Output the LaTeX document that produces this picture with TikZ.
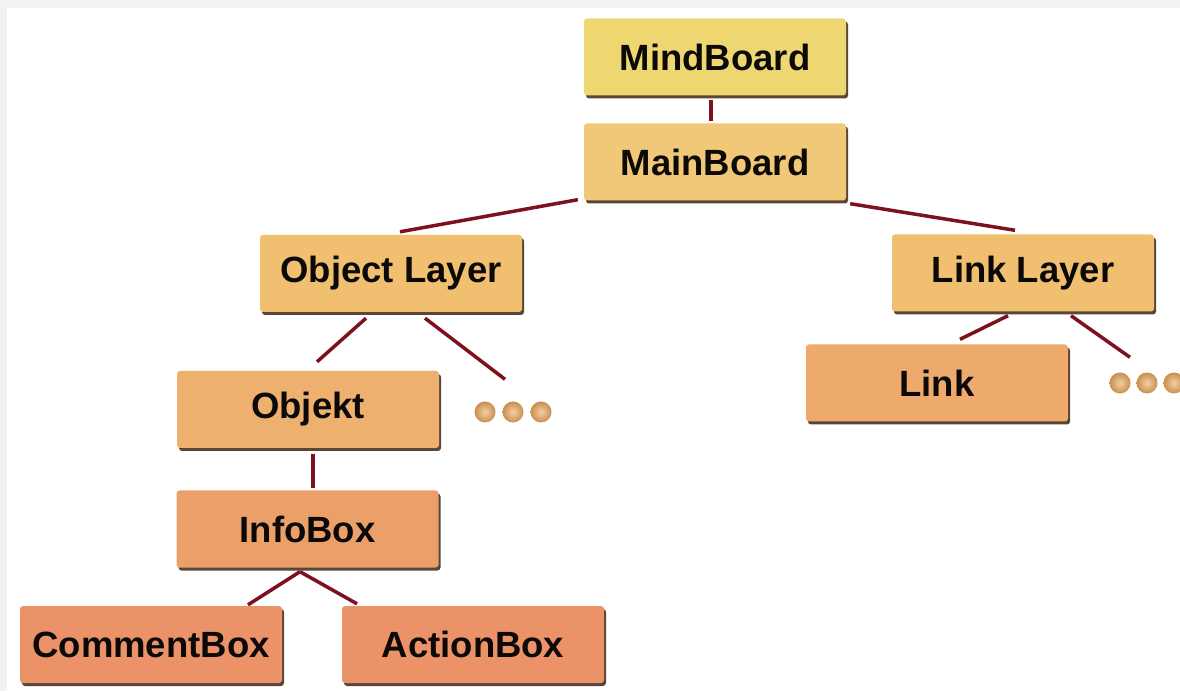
\documentclass[tikz,border=0pt]{standalone}
\usepackage{fontspec}
\setmainfont{Liberation Sans}
\usetikzlibrary{shadows}

\definecolor{bandgray}{RGB}{242,242,240}
\definecolor{linkred}{RGB}{125,18,30}
\definecolor{textdark}{RGB}{12,10,8}
\definecolor{shadowbrown}{RGB}{60,38,20}
\definecolor{c1}{RGB}{238,214,112}
\definecolor{c2}{RGB}{240,200,120}
\definecolor{c3}{RGB}{240,192,112}
\definecolor{c4}{RGB}{238,176,110}
\definecolor{c5}{RGB}{238,170,108}
\definecolor{c6}{RGB}{236,160,105}
\definecolor{c7}{RGB}{236,146,104}
\definecolor{dotorange}{RGB}{236,168,92}

\begin{document}
\begin{tikzpicture}[
        x=1pt, y=1pt,
        % 定義通用樣式
        box/.style={rectangle, rounded corners=3pt, minimum width=262pt, minimum height=77pt,
            font=\fontsize{36.5}{43}\selectfont\bfseries, text=textdark,
            drop shadow={shadow xshift=2pt, shadow yshift=-3pt, opacity=0.85, fill=shadowbrown}}, % 方塊樣式
        conn/.style={draw=linkred, line width=3.5pt}, % 連線樣式
        ball/.style={circle, minimum size=21pt, inner sep=0pt, inner color=dotorange!55!white, outer color=dotorange!85!black} % 省略點樣式
    ]

        % --- 背景 ---
        \useasboundingbox (0,0) rectangle (1180,691);
        \clip (0,0) rectangle (1180,691);
        \fill[bandgray] (0,0) rectangle (1180,691);
        \fill[white] (7,0) rectangle (1180,683);

        % 1. 繪製方塊
        \node[box, fill=c1] (mindboard) at (715,634) {MindBoard};
        \node[box, fill=c2] (mainboard) at (715,529) {MainBoard};
        \node[box, fill=c3] (objlayer) at (391,417.5) {Object Layer};
        \node[box, fill=c3] (linklayer) at (1023,418) {Link Layer};
        \node[box, fill=c4] (objekt) at (308,281.5) {Objekt};
        \node[box, fill=c5] (link) at (937,308) {Link};
        \node[box, fill=c6] (infobox) at (307.5,162) {InfoBox};
        \node[box, fill=c7] (commentbox) at (151,46.5) {CommentBox};
        \node[box, fill=c7] (actionbox) at (473,46.5) {ActionBox};

        % 2. 繪製省略點
        \foreach \i/\x in {1/485, 2/513, 3/541}
            \node[ball] (odot\i) at (\x,279) {};
        \foreach \i/\x in {1/1120, 2/1147, 3/1174}
            \node[ball] (ldot\i) at (\x,308) {};

        % 3. 繪製連線
        \draw[conn] ([xshift=-4pt,yshift=-4pt]mindboard.south) -- ([xshift=-4pt,yshift=2pt]mainboard.north);
        \draw[conn] ([xshift=-6pt,yshift=1pt]mainboard.south west) -- ([xshift=9pt,yshift=3pt]objlayer.north);
        \draw[conn] ([xshift=4pt,yshift=-3pt]mainboard.south east) -- ([xshift=-8pt,yshift=4pt]linklayer.north);
        \draw[conn] ([xshift=-25pt,yshift=-6pt]objlayer.south) -- ([xshift=9pt,yshift=9pt]objekt.north);
        \draw[conn] ([xshift=34pt,yshift=-6pt]objlayer.south) -- ([xshift=-8pt,yshift=22pt]odot2.north);
        \draw[conn] ([xshift=-15pt,yshift=-4pt]linklayer.south) -- ([xshift=23pt,yshift=5pt]link.north);
        \draw[conn] ([xshift=48pt,yshift=-4pt]linklayer.south) -- ([xshift=-17pt,yshift=15pt]ldot2.north);
        \draw[conn] ([xshift=5pt,yshift=-6pt]objekt.south) -- ([xshift=5.5pt,yshift=2pt]infobox.north);
        \draw[conn] ([xshift=-7.5pt,yshift=-4pt]infobox.south) -- ([xshift=97pt,yshift=1pt]commentbox.north);
        \draw[conn] ([xshift=-7.5pt,yshift=-4pt]infobox.south) -- ([xshift=-116pt,yshift=2pt]actionbox.north);

    \end{tikzpicture}
\end{document}
